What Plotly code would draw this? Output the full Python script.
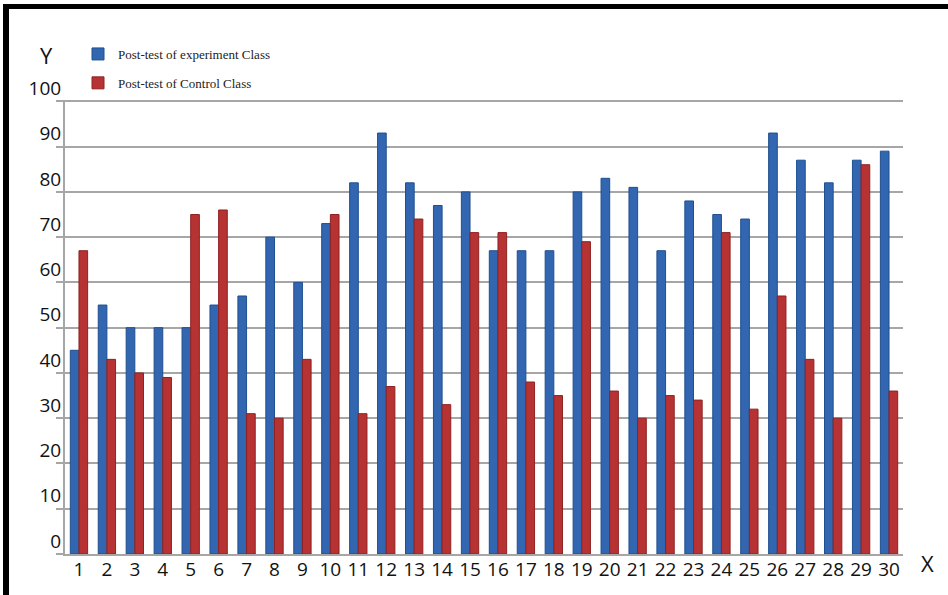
import plotly.graph_objects as go

# Student numbers along the x axis
students = [str(i) for i in range(1, 31)]

# Post-test scores
experiment_scores = [45, 55, 50, 50, 50, 55, 57, 70, 60, 73,
                     82, 93, 82, 77, 80, 67, 67, 67, 80, 83,
                     81, 67, 78, 75, 74, 93, 87, 82, 87, 89]
control_scores = [67, 43, 40, 39, 75, 76, 31, 30, 43, 75,
                  31, 37, 74, 33, 71, 71, 38, 35, 69, 36,
                  30, 35, 34, 71, 32, 57, 43, 30, 86, 36]

y_ticks = [0, 10, 20, 30, 40, 50, 60, 70, 80, 90, 100]

BLUE = "#3266B0"
RED = "#B73232"
GRID = "#A6A6A6"

W, H = 948, 595
L, R, T, B = 65, 45, 100, 41
PW, PH = W - L - R, H - T - B


def px(x):
    return (x - L) / PW


def py(y):
    return (H - B - y) / PH


fig = go.Figure()
fig.add_trace(go.Bar(
    x=students, y=experiment_scores, name="Post-test of experiment Class",
    marker=dict(color=BLUE, line=dict(color="#1F4F8F", width=1)),
    legendgroup="exp",
))
fig.add_trace(go.Bar(
    x=students, y=control_scores, name="Post-test of Control Class",
    marker=dict(color=RED, line=dict(color="#8E2222", width=1)),
    legendgroup="ctl",
))

fig.update_layout(
    width=W, height=H,
    margin=dict(l=L, r=R, t=T, b=B, pad=0),
    paper_bgcolor="white", plot_bgcolor="white",
    barmode="group", bargap=0.38, bargroupgap=0.0,
    font=dict(family="Open Sans, DejaVu Sans", color="#111"),
    legend=dict(
        x=px(78), y=py(39), xanchor="left", yanchor="top",
        font=dict(family="Liberation Serif", size=13, color="#222"),
        bgcolor="rgba(0,0,0,0)", tracegroupgap=9,
        itemwidth=30,
    ),
    xaxis=dict(
        type="category", showgrid=False, showline=True, linecolor=GRID, linewidth=2,
        ticks="", tickfont=dict(size=19, color="#111"), fixedrange=True,
        ticklabelstandoff=-3,
    ),
    yaxis=dict(
        range=[0, 100.3], tickvals=y_ticks, ticktext=[str(v) for v in y_ticks],
        showgrid=True, gridcolor=GRID, gridwidth=2,
        showline=True, linecolor=GRID, linewidth=2,
        ticks="outside", ticklen=7, tickcolor=GRID, tickwidth=2,
        tickfont=dict(size=19, color="#111"), ticklabelshift=-13,
        ticklabelstandoff=-9, zeroline=False,
    ),
    annotations=[
        dict(text="Y", x=px(46), y=py(55), xref="paper", yref="paper",
             xanchor="center", yanchor="middle",
             showarrow=False, font=dict(size=22, color="#111")),
        dict(text="X", x=px(928), y=py(563), xref="paper", yref="paper",
             xanchor="center", yanchor="middle",
             showarrow=False, font=dict(size=22, color="#111")),
    ],
    shapes=[
        # black frame along the top and left edges
        dict(type="rect", xref="paper", yref="paper", x0=px(3), x1=px(948),
             y0=py(4), y1=py(9), fillcolor="black", line=dict(width=0), layer="above"),
        dict(type="rect", xref="paper", yref="paper", x0=px(3), x1=px(9),
             y0=py(4), y1=py(595), fillcolor="black", line=dict(width=0), layer="above"),
    ],
)

fig.write_html("out.html")
